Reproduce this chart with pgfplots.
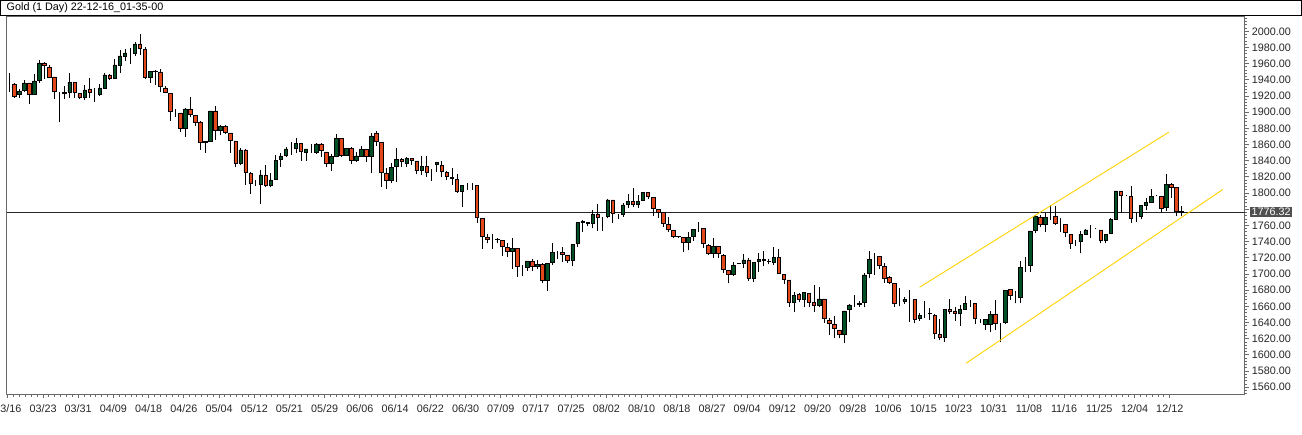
\documentclass[border=0pt]{standalone}
\usepackage{pgfplots}
\pgfplotsset{compat=1.18}
\usepackage{pgfplotstable}
\usepackage{fontspec}
\setmainfont{Liberation Sans}
\definecolor{cgreen}{RGB}{0,80,38}
\definecolor{cred}{RGB}{226,72,26}
\definecolor{framegray}{RGB}{105,105,105}
\definecolor{chan}{RGB}{255,210,0}
\definecolor{lblbox}{RGB}{80,80,80}
\pgfplotstableread{
n o h l c
1 1936 1948.5 1925 1936
2 1934.9 1935.5 1917.6 1920
3 1922.5 1928.7 1917.6 1926.2
4 1927.5 1939.8 1925 1936.1
5 1936.1 1936.5 1910.2 1922.5
6 1922.5 1947.2 1922 1938.6
7 1939.8 1964.5 1936.1 1960.8
8 1960.8 1961.5 1941 1958.4
9 1955.9 1958.4 1942.5 1943.5
10 1943.5 1944 1916.3 1926.2
11 1923.7 1924.5 1887.9 1923.7
12 1923.5 1932.4 1916.3 1923.9
13 1925 1948.5 1917.6 1937.3
14 1937.3 1937.5 1918 1925
15 1923.7 1924 1916.3 1918.8
16 1918.8 1933.6 1915.1 1927.5
17 1928.7 1942.3 1917.6 1925
18 1922.5 1929.9 1912.6 1922.5
19 1922.5 1934.9 1920 1929.9
20 1929.9 1948.5 1929.5 1946
21 1946 1947.2 1939.8 1942.3
22 1942.3 1965.8 1941 1958.4
23 1958.4 1976.9 1948.5 1969.5
24 1969.5 1978.1 1963.3 1973.2
25 1974.4 1979.4 1959.6 1974.4
26 1973.2 1986.8 1969.5 1984.3
27 1984.3 1996.7 1970.7 1979.4
28 1978.1 1980.6 1941 1943.5
29 1943.5 1951.5 1936.1 1950.9
30 1950.9 1952.2 1933.6 1951
31 1949.7 1953.4 1925 1932.4
32 1929.9 1932.4 1923.7 1925
33 1923.7 1924 1889.1 1901.5
34 1900.3 1904 1894.1 1900.3
35 1899 1899.5 1875.5 1880.5
36 1880.5 1905.2 1869.4 1904
37 1904 1918.8 1894.1 1897.8
38 1896.5 1897 1883 1887.9
39 1887.9 1888.5 1853.3 1863.2
40 1863.2 1864 1849.6 1863.4
41 1864.4 1902 1864 1901.5
42 1901.5 1907.7 1865.7 1878
43 1878 1884.2 1871.8 1882.9
44 1882.9 1884.2 1873 1875.5
45 1874.3 1874.5 1849.6 1865.7
46 1864.4 1865 1832.3 1837.2
47 1837.2 1855.8 1834.7 1853.3
48 1853.3 1854 1810 1826.1
49 1824.8 1826.1 1798.9 1812.5
50 1810 1816.2 1808.8 1810
51 1811.3 1828.6 1786.5 1822.4
52 1822.4 1834.7 1807.5 1810
53 1810 1824.8 1807.5 1816.2
54 1817.4 1847.1 1816.2 1840.9
55 1842.2 1849.6 1832.3 1845.9
56 1847.1 1857 1844.6 1854.5
57 1855.8 1863.2 1847.1 1855.8
58 1855.8 1868.1 1849.6 1861.9
59 1861.9 1862.5 1839.7 1852
60 1850.8 1855 1839.7 1854.5
61 1853.3 1860.7 1849.6 1853.3
62 1850.8 1861.9 1848.4 1860.7
63 1860.7 1861.9 1844.6 1853.3
64 1850.8 1851 1832.3 1837.2
65 1836.8 1848.3 1827.7 1845
66 1845 1872.7 1844 1867.7
67 1867.7 1868 1845 1846.3
68 1847.2 1856 1846.3 1855.4
69 1855.4 1857.4 1835.6 1840.9
70 1840.9 1851.2 1838.8 1845.9
71 1845.9 1858.2 1845 1854.2
72 1854.2 1854.5 1838.8 1845.9
73 1845.9 1874.7 1824.5 1870.6
74 1873.9 1877.1 1858.6 1864.4
75 1862.8 1863.2 1808 1825.7
76 1824.5 1830.6 1804.7 1816.2
77 1816.2 1837.6 1812.1 1831.9
78 1832.6 1855.4 1814.1 1841.8
79 1841.8 1842.9 1832.6 1838.8
80 1836.8 1845 1832.6 1843
81 1843 1843.5 1834.9 1840
82 1839.7 1840 1823.6 1827.7
83 1827.7 1845.9 1822.4 1832.6
84 1832.6 1845.9 1820.2 1825.7
85 1825.7 1829.8 1815 1825.7
86 1835.6 1838.8 1826.5 1837.6
87 1834.7 1840.1 1819.5 1826.5
88 1825.7 1827.7 1816.2 1820.3
89 1819.5 1830.6 1810 1818.3
90 1817.4 1823.6 1799.7 1801.7
91 1801.7 1810.5 1783.2 1810
92 1811.6 1812 1803.8 1811.6
93 1811.6 1812 1803.8 1811.6
94 1810 1810.5 1763.4 1769.6
95 1768.8 1769.6 1730.9 1746.1
96 1745.3 1749.4 1737.9 1742.9
97 1742.9 1749.4 1730.9 1742.9
98 1742.5 1744.1 1737.9 1742.9
99 1742 1742.5 1722.3 1733.7
100 1733 1737.9 1721.4 1727.6
101 1727.6 1744.1 1706.2 1731.8
102 1731.8 1732 1696.7 1709
103 1709 1711.2 1697.5 1709
104 1708.3 1716.5 1704 1716.1
105 1716.1 1718 1703.6 1709
106 1709 1717.3 1706.2 1712
107 1712 1713.2 1689.3 1691.7
108 1691.7 1713.6 1679.4 1713.2
109 1714 1737.9 1711.2 1726.8
110 1728.4 1728.6 1718.5 1728.4
111 1726.4 1733.7 1714.4 1724.4
112 1723.5 1723.6 1714 1717.3
113 1716.5 1737 1710.2 1736.7
114 1737.9 1763.6 1733.7 1763.4
115 1763.9 1766.8 1751.6 1765.5
116 1763.9 1764.7 1759.3 1762.6
117 1762.6 1779.1 1756.5 1773.8
118 1773.8 1786.2 1753.5 1769.6
119 1769.6 1770.9 1753.5 1769.6
120 1770.9 1792.3 1768.8 1791.5
121 1791.5 1792 1763.4 1775.1
122 1773.8 1774 1768 1773.8
123 1773.8 1788.3 1770.9 1785.3
124 1786.2 1798.9 1782 1790.2
125 1790.2 1806 1783.2 1786.2
126 1786.2 1797.7 1781.9 1790.2
127 1791.5 1801.5 1791 1801
128 1801 1801.3 1792.7 1795.5
129 1794.8 1795 1772.1 1781.2
130 1780 1780.2 1769.6 1776.3
131 1775.8 1776 1758.5 1762.6
132 1761.4 1770.9 1752.3 1755.2
133 1754.4 1754.8 1744.1 1747
134 1746 1747 1744.5 1746.1
135 1745.3 1745.5 1726.8 1739.2
136 1739.2 1752.3 1729.3 1745.3
137 1746.1 1755.5 1741.2 1755.2
138 1756.5 1764.7 1752.3 1756.5
139 1756.5 1757 1732.5 1737.9
140 1735 1736.7 1723.5 1725.6
141 1725.6 1744.1 1719.4 1733.7
142 1734.5 1735 1719.4 1725.6
143 1722.6 1724.3 1701.6 1705.8
144 1704.1 1704.5 1688.5 1699.6
145 1699.6 1715.2 1697.9 1710.2
146 1713.2 1714 1712.8 1713.4
147 1713.2 1724.3 1707 1717.3
148 1717.3 1719.4 1691.7 1694.7
149 1694.7 1715 1690.5 1714.5
150 1715.2 1725.6 1702.9 1718.5
151 1718.5 1728.4 1710.3 1716.9
152 1715.2 1718.5 1712 1715.4
153 1714.5 1732.9 1711.2 1720.6
154 1720.6 1730.5 1700.5 1700.9
155 1699.6 1700 1687.6 1693.4
156 1692.6 1693 1659.6 1665
157 1665 1678.1 1653.4 1674
158 1675.3 1676.9 1665 1669.1
159 1669.1 1677.3 1658.8 1676.9
160 1676.1 1676.5 1659.6 1664.5
161 1664.5 1686.4 1653.4 1660.8
162 1660.8 1684.3 1658.8 1669.1
163 1669.1 1669.5 1639.8 1645.2
164 1643.1 1646 1624.6 1639
165 1638.2 1648.1 1620.5 1632.9
166 1630.8 1631 1620.5 1625.5
167 1625.5 1654.5 1614.3 1654.3
168 1655.7 1662.6 1640.3 1661.7
169 1661.7 1674 1659.6 1661.7
170 1662.5 1667 1659.6 1663.8
171 1664.5 1701.6 1658.8 1698.8
172 1700.9 1728.8 1695.4 1718.1
173 1721.4 1725.6 1698.8 1721.4
174 1721.4 1722.2 1706.2 1710.2
175 1709 1713.2 1689.3 1694.7
176 1695.9 1697.5 1687.2 1689.7
177 1688.5 1689 1659.6 1663.8
178 1665 1682.3 1660 1665
179 1665.8 1672 1662.6 1668.7
180 1670 1680.2 1641 1670
181 1668.7 1669 1639 1644
182 1645.3 1651.4 1642.3 1649.3
183 1651.4 1666.6 1645.3 1651.4
184 1651.4 1657.6 1643.1 1651.6
185 1649.3 1650 1619.7 1626.7
186 1625.5 1644 1618.4 1621.3
187 1621.3 1656.7 1616.3 1656.4
188 1656.4 1668.7 1650 1653.4
189 1654.3 1659.6 1642.3 1651.4
190 1651.4 1661.7 1636 1656.6
191 1656.6 1672.8 1655.5 1663.8
192 1665.4 1667.9 1659.6 1665.4
193 1663.8 1664 1637.8 1645.3
194 1644 1644.5 1639 1644
195 1638.2 1644.5 1630.8 1644
196 1638.2 1654.3 1628.7 1650.2
197 1650.2 1667.9 1630.8 1639
198 1638.2 1639 1616.3 1638.2
199 1639.8 1680.5 1638.2 1680.2
200 1681.1 1681.5 1667.9 1673.2
201 1672 1679 1663.8 1672
202 1670.7 1716.1 1663.8 1708.3
203 1710.3 1721.4 1702.9 1710.3
204 1710.3 1753.5 1702.9 1753.2
205 1753.5 1772.5 1750.3 1770.9
206 1770.1 1772.9 1758.5 1761.4
207 1761.4 1775.1 1751.5 1770.1
208 1770.9 1785.3 1766.8 1770.9
209 1771.7 1784.1 1760.6 1762.6
210 1762.6 1768.8 1752.3 1762.6
211 1761.4 1761.8 1745.4 1751.5
212 1749 1749.4 1730.5 1737.9
213 1739.2 1742 1734.6 1739.2
214 1740 1753.5 1725.6 1749
215 1749.4 1755.6 1748 1754.4
216 1756.5 1760.6 1744.1 1756.5
217 1756 1756.5 1755 1756
218 1754.4 1754.8 1738 1741.2
219 1741.2 1749.4 1738 1749
220 1750.3 1768.8 1749 1767.6
221 1768 1803 1766.8 1802.6
222 1802.6 1803 1775.1 1796.8
223 1796.8 1797.2 1796.4 1796.8
224 1796.4 1808.8 1763.4 1768.9
225 1770.1 1775.1 1764.7 1770.1
226 1770.9 1784.7 1767.6 1784.5
227 1785.3 1794.3 1779.1 1788.6
228 1788.6 1804.7 1787.4 1795.6
229 1796.8 1797.5 1796 1796.8
230 1795.6 1796 1775.8 1781.2
231 1782.4 1823.6 1778 1810.9
232 1810.9 1812.1 1794.3 1807.2
233 1807.2 1807.5 1772.1 1777
234 1777 1783.9 1772.1 1776.3
}\candles
\pgfplotsset{
  common/.style={
    at={(6.7pt,-16pt)}, anchor=north west,
    scale only axis, width=1238pt, height=378.3pt,
    xmin=0.48, xmax=246.6, ymin=1551.3, ymax=2018.9,
  }
}
\begin{document}
\begin{tikzpicture}[font=\fontsize{10.8pt}{12pt}\selectfont]
\path[use as bounding box] (0pt,0pt) rectangle (1302pt,-435pt);
\begin{axis}[common,
  axis line style={draw=framegray, line width=1.3pt},
  tick align=outside,
  xtick pos=left, ytick pos=right, yticklabel pos=right,
  ytick={1560,1580,1600,1620,1640,1660,1680,1700,1720,1740,1760,1800,1820,1840,1860,1880,1900,1920,1940,1960,1980,2000},
  minor ytick={1552,1556,...,2016},
  extra y ticks={1780}, extra y tick labels={},
  xtick={0.7,7.7,...,231.7},
  minor x tick num=5,
  xticklabels={03/16,03/23,03/31,04/09,04/18,04/26,05/04,05/12,05/21,05/29,06/06,06/14,06/22,06/30,07/09,07/17,07/25,08/02,08/10,08/18,08/27,09/04,09/12,09/20,09/28,10/06,10/15,10/23,10/31,11/08,11/16,11/25,12/04,12/12},
  major tick length=4pt, minor tick length=2.5pt,
  tick style={draw=framegray, line width=0.9pt},
  yticklabel={\pgfmathprintnumber[fixed,fixed zerofill,precision=2,1000 sep={},assume math mode=true]{\tick}},
  yticklabel style={anchor=west, inner sep=0pt, xshift=3pt, text=black!85},
  xticklabel style={anchor=north, inner sep=0pt, yshift=-6.5pt, text=black!85},
  tick label style={font=\fontsize{10.8pt}{12pt}\selectfont},
]
\addplot[black!85, line width=1pt] coordinates {(0.48,1776.32) (246.6,1776.32)};
\addplot[draw=none, mark=none, error bars/.cd, y dir=plus, y explicit, error mark=none,
  error bar style={draw=black, solid, line width=0.9pt}]
  table[x=n, y=l, y error plus expr={\thisrow{h}-\thisrow{l}}] {\candles};
\coordinate (L) at (axis cs:246.6,1776.32);
\end{axis}
\begin{axis}[common, hide axis, ybar stacked, bar width=0.7]
\addplot[draw=none, fill=none] table[x=n, y expr={min(\thisrow{o},\thisrow{c})}] {\candles};
\addplot[draw=black, fill=cgreen, line width=0.8pt] table[x=n, y expr={max(\thisrow{c}-\thisrow{o},0)}] {\candles};
\addplot[draw=black, fill=cred, line width=0.8pt] table[x=n, y expr={max(\thisrow{o}-\thisrow{c},0)}] {\candles};
\end{axis}
\begin{axis}[common, hide axis]
\addplot[chan, line width=0.9pt] coordinates {(181.95,1683.6) (231.5,1875.2)};
\addplot[chan, line width=0.9pt] coordinates {(191.2,1589.6) (242.3,1804.7)};
\end{axis}
\node[anchor=west, fill=lblbox, text=white, inner xsep=1.2pt, inner ysep=1pt, xshift=5.5pt] at (L) {1776.32};
\draw[black, line width=1pt] (0.5pt,-0.5pt) rectangle (1301.5pt,-15.6pt);
\node[anchor=west, inner sep=0pt] at (6.5pt,-8pt) {Gold (1 Day) 22-12-16\_01-35-00};
\end{tikzpicture}
\end{document}
